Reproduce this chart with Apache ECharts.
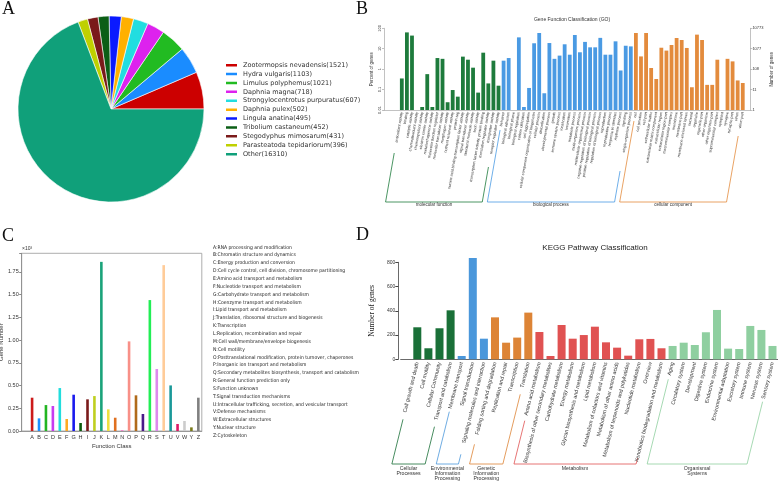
<!DOCTYPE html>
<html>
<head>
<meta charset="utf-8">
<script src="https://cdn.jsdelivr.net/npm/echarts@6/dist/echarts.min.js"></script>
<style>
html,body{margin:0;padding:0;background:#fff;}
#main{width:778px;height:481px;}
</style>
</head>
<body>
<div id="main"></div>
<script>
// ---- A: species distribution ----
var speciesNames = ['Zootermopsis nevadensis', 'Hydra vulgaris', 'Limulus polyphemus', 'Daphnia magna',
  'Strongylocentrotus purpuratus', 'Daphnia pulex', 'Lingula anatina', 'Tribolium castaneum',
  'Stegodyphus mimosarum', 'Parasteatoda tepidariorum', 'Other'];
var speciesCounts = [1521, 1103, 1021, 718, 607, 502, 495, 452, 431, 396, 16310];
var speciesColors = ['#cc0000', '#1a8cff', '#22bb22', '#dd22ee', '#22dde0', '#ffb000',
  '#0a1aff', '#0b5e16', '#7a1a1a', '#bfd000', '#10a07a'];

// ---- B: GO classification (percent of genes) ----
var goMF = ['antioxidant activity', 'binding', 'catalytic activity', 'chemoattractant activity',
  'chemorepellent activity', 'electron carrier activity', 'metallochaperone activity',
  'molecular function regulator', 'molecular transducer activity', 'morphogen activity',
  'nutrient reservoir activity', 'protein tag', 'nucleic acid binding transcription factor activity',
  'signal transducer activity', 'structural molecule activity', 'toxin activity',
  'transcription factor activity, protein binding', 'translation regulator activity',
  'transporter activity', 'receptor regulator activity'];
var goMFPct = [0.35, 63, 44, 0, 0.014, 0.57, 0.014, 3.5, 3.2, 0.024, 0.095, 0.045, 4.1, 2.9, 1.18, 0.071, 6.4, 0.2, 2.6, 0.155];
var goBP = ['behavior', 'biological adhesion', 'biological phase', 'biological regulation',
  'carbon utilization', 'cell aggregation', 'cellular component organization or biogenesis',
  'cellular process', 'detoxification', 'developmental process', 'growth', 'immune system process',
  'localization', 'locomotion', 'metabolic process', 'multi-organism process',
  'multicellular organismal process', 'negative regulation of biological process',
  'positive regulation of biological process', 'regulation of biological process', 'reproduction',
  'reproductive process', 'response to stimulus', 'rhythmic process', 'signaling', 'single-organism process'];
var goBPPct = [2.6, 3.5, 0, 36, 0.014, 0.12, 18.5, 59, 0.066, 19, 3.2, 4.6, 16.5, 5.1, 47, 6.7, 21.6, 11.7, 11.7, 34, 5.1, 5.1, 23, 0.86, 14, 13];
var goCC = ['cell', 'cell junction', 'cell part', 'extracellular matrix', 'extracellular matrix component',
  'extracellular region', 'extracellular region part', 'macromolecular complex', 'membrane',
  'membrane part', 'membrane-enclosed lumen', 'nucleoid', 'organelle', 'organelle part',
  'other organism', 'other organism part', 'supramolecular complex', 'symplast', 'synapse',
  'synapse part', 'virion', 'virion part'];
var goCCPct = [59, 4.2, 59, 1.14, 0.33, 11.2, 8.1, 15.2, 33.6, 26.8, 10.9, 0.13, 49, 26.8, 0.17, 0.17, 2.9, 0, 3.2, 2.4, 0.28, 0.21];
var goGroupNames = ['molecular function', 'biological process', 'cellular component'];
var goColors = ['#1e7b3c', '#4a9ae3', '#e38b3d'];
var pctTicks = ['0.01', '0.1', '1', '10', '100'];
var geneTicks = ['1', '11', '108', '1077', '10773'];

// ---- C: COG function class ----
var cogLetters = ['A','B','C','D','E','F','G','H','I','J','K','L','M','N','O','P','Q','R','S','T','U','V','W','Y','Z'];
var cogCounts = [366, 139, 285, 275, 472, 132, 399, 88, 348, 384, 1859, 238, 146, 11, 985, 392, 187, 1439, 681, 1823, 501, 77, 110, 40, 366];
var cogColors = ['#cc1a1a','#1e90ff','#22b522','#c83cf0','#22dddd','#ffaa22','#1a1aee','#0a5c0a','#7a1a1a','#bfcf1f',
  '#1aa37a','#f0e040','#e07020','#ee88cc','#f89088','#b06a1a','#4a1a8a','#22ee55','#dd88ee','#ffcc99',
  '#1a9999','#dd1a66','#cccccc','#7a7a1a','#808080'];
var cogDesc = ['A:RNA processing and modification', 'B:Chromatin structure and dynamics',
  'C:Energy production and conversion', 'D:Cell cycle control, cell division, chromosome partitioning',
  'E:Amino acid transport and metabolism', 'F:Nucleotide transport and metabolism',
  'G:Carbohydrate transport and metabolism', 'H:Coenzyme transport and metabolism',
  'I:Lipid transport and metabolism', 'J:Translation, ribosomal structure and biogenesis',
  'K:Transcription', 'L:Replication, recombination and repair', 'M:Cell wall/membrane/envelope biogenesis',
  'N:Cell motility', 'O:Posttranslational modification, protein turnover, chaperones',
  'P:Inorganic ion transport and metabolism', 'Q:Secondary metabolites biosynthesis, transport and catabolism',
  'R:General function prediction only', 'S:Function unknown', 'T:Signal transduction mechanisms',
  'U:Intracellular trafficking, secretion, and vesicular transport', 'V:Defense mechanisms',
  'W:Extracellular structures', 'Y:Nuclear structure', 'Z:Cytoskeleton'];

// ---- D: KEGG pathway ----
var keggNames = ['Cell growth and death', 'Cell motility', 'Cellular Community', 'Transport and catabolism',
  'Membrane transport', 'Signal transduction', 'Signaling molecules and interaction',
  'Folding sorting and degradation', 'Replication and repair', 'Transcription', 'Translation',
  'Amino acid metabolism', 'Biosynthesis of other secondary metabolites', 'Carbohydrate metabolism',
  'Energy metabolism', 'Glycan biosynthesis and metabolism', 'Lipid metabolism',
  'Metabolism of cofactors and vitamins', 'Metabolism of other amino acids',
  'Metabolism of terpenoids and polyketides', 'Nucleotide metabolism', 'Overview',
  'Xenobiotics biodegradation and metabolism', 'Aging', 'Circulatory system', 'Development',
  'Digestive system', 'Endocrine system', 'Environmental adaptation', 'Excretory system',
  'Immune system', 'Nervous system', 'Sensory system'];
var keggCounts = [264, 91, 256, 404, 27, 836, 170, 346, 137, 179, 385, 225, 27, 283, 170, 200, 269, 140, 96, 30, 165, 168, 91,
  110, 137, 118, 223, 407, 88, 85, 275, 242, 110];
var keggGroupNames = ['Cellular\nProcesses', 'Environmental\nInformation\nProcessing', 'Genetic\nInformation\nProcessing', 'Metabolism', 'Organismal\nSystems'];
var keggGroupSizes = [4, 3, 4, 12, 10];
var keggColors = ['#1a7038', '#4a97db', '#dd8436', '#e05252', '#8fcfa0'];

// ---- build ----
var goCats = ['', '', ''].concat(goMF, goBP, goCC, ['']);
var goPct = [null, null, null].concat(goMFPct, goBPPct, goCCPct, [null]);
var goGroupOf = [-1, -1, -1].concat(goMF.map(function(){return 0;}), goBP.map(function(){return 1;}), goCC.map(function(){return 2;}), [-1]);
var goVals = goPct.map(function (p) { return p ? Math.log10(p) + 2 : '-'; });

var cogCats = [''].concat(cogLetters);
var cogVals = ['-'].concat(cogCounts);

var keggCats = [''].concat(keggNames);
var keggVals = ['-'].concat(keggCounts);
var keggGroupOf = [-1];
keggGroupSizes.forEach(function (n, g) { for (var i = 0; i < n; i++) keggGroupOf.push(g); });

var countOf = {};
speciesNames.forEach(function (n, i) { countOf[n] = speciesCounts[i]; });

var chart = echarts.init(document.getElementById('main'));
var smallAxis = { color: '#999', width: 0.6 };

var option = {
  animation: false,
  backgroundColor: '#fff',
  legend: {
    data: speciesNames,
    orient: 'vertical',
    left: 219, top: 56.4,
    itemWidth: 13, itemHeight: 4.5, itemGap: 1.4,
    icon: 'rect',
    selectedMode: false,
    textStyle: { fontSize: 6.5, color: '#333', fontFamily: 'DejaVu Sans', lineHeight: 7.5 },
    formatter: function (n) { return n + '(' + countOf[n] + ')'; }
  },
  grid: [
    { left: 384, top: 28.3, width: 366.4, height: 81.7, outerBoundsMode: 'none' },
    { left: 21.7, top: 253.3, width: 180.1, height: 177.7, show: true, borderColor: '#999', borderWidth: 0.8, outerBoundsMode: 'none' },
    { left: 400.65, top: 262.3, width: 377.4, height: 97, outerBoundsMode: 'none' }
  ],
  xAxis: [
    { gridIndex: 0, type: 'category', data: goCats,
      axisLine: { lineStyle: smallAxis }, axisTick: { show: false },
      axisLabel: { interval: 0, rotate: 80, fontSize: 3.8, color: '#333', margin: 2, fontFamily: 'Liberation Sans' } },
    { gridIndex: 1, type: 'category', data: cogCats,
      name: 'Function Class', nameLocation: 'middle', nameGap: 12,
      nameTextStyle: { fontSize: 6, color: '#333' },
      axisLine: { lineStyle: { color: '#888', width: 0.8 } },
      axisTick: { alignWithLabel: true, length: 2.5, interval: function (i) { return i > 0; } },
      axisLabel: { interval: 0, fontSize: 5.5, color: '#333', margin: 3 } },
    { gridIndex: 2, type: 'category', data: keggCats,
      axisLine: { lineStyle: { color: '#444', width: 0.8 } },
      axisTick: { alignWithLabel: true, length: 3, interval: function (i) { return i > 0; }, lineStyle: { color: '#444' } },
      axisLabel: { interval: 0, rotate: 76, fontSize: 5.3, color: '#333', margin: 3, fontFamily: 'Liberation Sans' } }
  ],
  yAxis: [
    { gridIndex: 0, type: 'value', min: 0, max: 4, interval: 1,
      name: 'Percent of genes', nameLocation: 'middle', nameGap: 10,
      nameTextStyle: { fontSize: 4.5, color: '#333' },
      axisLine: { show: true, lineStyle: smallAxis }, axisTick: { show: true, length: 2, lineStyle: smallAxis },
      splitLine: { show: false },
      axisLabel: { fontSize: 4, color: '#333', rotate: 90, margin: 2, formatter: function (v) { return pctTicks[v]; } } },
    { gridIndex: 0, type: 'value', min: 0, max: 4, interval: 1, position: 'right',
      name: 'Number of genes', nameLocation: 'middle', nameGap: 19, nameRotate: 90,
      nameTextStyle: { fontSize: 4.5, color: '#333' },
      axisLine: { show: true, lineStyle: smallAxis }, axisTick: { show: true, length: 2, lineStyle: smallAxis },
      splitLine: { show: false },
      axisLabel: { fontSize: 4, color: '#333', margin: 2, formatter: function (v) { return geneTicks[v]; } } },
    { gridIndex: 1, type: 'value', min: 0, max: 1953, interval: 250,
      name: 'Gene Number', nameLocation: 'middle', nameGap: 15,
      nameTextStyle: { fontSize: 6, color: '#333' },
      axisLine: { show: true, lineStyle: { color: '#888', width: 0.8 } },
      axisTick: { show: true, length: 2.5 }, splitLine: { show: false },
      axisLabel: { fontSize: 5.5, color: '#333', margin: 3,
        formatter: function (v) { return v % 250 === 0 ? (v / 1000).toFixed(2) : ''; } } },
    { gridIndex: 2, type: 'value', min: 0, max: 800, interval: 200, offset: 2.35,
      name: 'Number of genes', nameLocation: 'middle', nameGap: 22,
      nameTextStyle: { fontSize: 7.5, color: '#222', fontFamily: 'Liberation Serif' },
      axisLine: { show: true, lineStyle: { color: '#444', width: 0.8 } },
      axisTick: { show: true, length: 3, lineStyle: { color: '#444' } }, splitLine: { show: false },
      axisLabel: { fontSize: 5, color: '#333', margin: 3 } }
  ],
  series: [
    { type: 'pie', center: [111, 109], radius: 93, startAngle: 0, clockwise: false,
      label: { show: false }, labelLine: { show: false }, emphasis: { disabled: true },
      itemStyle: { borderColor: '#fff', borderWidth: 0.6 },
      data: speciesNames.map(function (n, i) {
        return { name: n, value: speciesCounts[i], itemStyle: { color: speciesColors[i] } };
      }) },
    { type: 'bar', xAxisIndex: 0, yAxisIndex: 0, data: goVals, barWidth: 3.8,
      itemStyle: { color: function (p) { return goColors[goGroupOf[p.dataIndex]] || '#999'; } } },
    { type: 'bar', xAxisIndex: 1, yAxisIndex: 2, data: cogVals, barWidth: 2.6,
      itemStyle: { color: function (p) { return cogColors[p.dataIndex - 1] || '#999'; } } },
    { type: 'bar', xAxisIndex: 2, yAxisIndex: 3, data: keggVals, barWidth: 8, clip: false,
      itemStyle: { color: function (p) { return keggColors[keggGroupOf[p.dataIndex]] || '#999'; } } }
  ]
};
chart.setOption(option);

// ---- annotations: panel letters, titles, group brackets ----
function txt(x, y, s, size, opts) {
  opts = opts || {};
  return {
    type: 'text', x: x, y: y, rotation: opts.rotation || 0, silent: true,
    style: {
      text: s, fontSize: size, fontFamily: opts.family || 'Liberation Sans',
      fill: opts.fill || '#333', align: opts.align || 'left', textAlign: opts.align || 'left',
      verticalAlign: opts.va || 'middle', textVerticalAlign: opts.va || 'middle',
      lineHeight: opts.lh, fontWeight: opts.weight || 'normal'
    }
  };
}

function bracket(axisIdx, i0, i1, axisY, angle, yTopL, yTopR, yBot, color) {
  var cot = 1 / Math.tan(angle * Math.PI / 180);
  var xa = chart.convertToPixel({ xAxisIndex: axisIdx }, i0);
  var xb = chart.convertToPixel({ xAxisIndex: axisIdx }, i1);
  var pts = [[xa - (yTopL - axisY) * cot, yTopL], [xa - (yBot - axisY) * cot, yBot],
             [xb - (yBot - axisY) * cot, yBot], [xb - (yTopR - axisY) * cot, yTopR]];
  return { pts: pts, mid: (pts[1][0] + pts[2][0]) / 2,
    el: { type: 'polyline', silent: true, shape: { points: pts }, style: { stroke: color, lineWidth: 0.8, fill: null } } };
}

var g = [];
g.push(txt(2, 9, 'A', 18, { family: 'Liberation Serif', fill: '#111' }));
g.push(txt(356, 9, 'B', 18, { family: 'Liberation Serif', fill: '#111' }));
g.push(txt(2, 236, 'C', 18, { family: 'Liberation Serif', fill: '#111' }));
g.push(txt(356, 235, 'D', 18, { family: 'Liberation Serif', fill: '#111' }));
g.push(txt(572, 20, 'Gene Function Classification (GO)', 5, { align: 'center' }));
g.push(txt(595, 248, 'KEGG Pathway Classification', 8, { align: 'center', fill: '#222' }));
g.push(txt(22, 249, '\u00d710\u00b3', 5, {}));
g.push(txt(213, 243.4, cogDesc.join('\n'), 5.0, { va: 'top', lh: 7.85, family: 'Liberation Sans Narrow, DejaVu Sans Condensed, sans-serif', fill: '#222' }));

// GO brackets
var goRanges = [[3, 22, 153, 167], [23, 48, 130, 171], [49, 70, 121, 136]];
goRanges.forEach(function (r, k) {
  var b = bracket(0, r[0], r[1], 110, 80, r[2], r[3], 202, goColors[k]);
  g.push(b.el);
  g.push(txt(b.mid, 204.5, goGroupNames[k], 4.5, { align: 'center' }));
});

// KEGG brackets
var keggTops = [[419.3, 426.7], [411.7, 454.3], [444.3, 394.3], [420.7, 458], [379.3, 401.7]];
var start = 1;
keggGroupSizes.forEach(function (n, k) {
  var b = bracket(2, start, start + n - 1, 362, 76, keggTops[k][0], keggTops[k][1], 464, keggColors[k]);
  g.push(b.el);
  g.push(txt(b.mid, 466, keggGroupNames[k], 5.2, { align: 'center', va: 'top', lh: 5 }));
  start += n;
});

chart.setOption({ graphic: g });
</script>
</body>
</html>
